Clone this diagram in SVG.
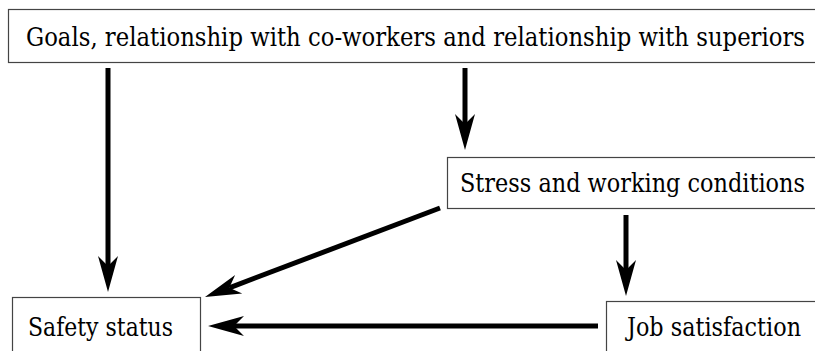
<svg xmlns="http://www.w3.org/2000/svg" width="815" height="351" viewBox="0 0 815 351">
<style>
.box{fill:#fff;stroke:#444;stroke-width:1.2}
.lbl{font-family:'DejaVu Serif',serif;font-size:26.5px;fill:#000}
.arr{stroke:#000;stroke-width:5;fill:none;marker-end:url(#ah)}
</style>
<defs>
<marker id="ah" markerUnits="userSpaceOnUse" markerWidth="40" markerHeight="24" viewBox="0 -12 40 24" refX="10" refY="0" orient="auto">
<path d="M0,-10 L36,0 L0,10 L10,0 Z" fill="#000"/>
</marker>
</defs>
<rect width="815" height="351" fill="#fff"/>
<g id="connectors">
<line class="arr" x1="108" y1="68" x2="108" y2="266"/>
<line class="arr" x1="465" y1="68" x2="465" y2="124"/>
<line class="arr" x1="626" y1="215" x2="626" y2="270"/>
<line class="arr" x1="440" y1="208" x2="229.3" y2="287.8"/>
<line class="arr" x1="598" y1="326" x2="234" y2="326"/>
</g>
<g id="goals">
<rect class="box" x="8.5" y="9.5" width="810" height="53"/>
<text class="lbl" x="26" y="46" textLength="779" lengthAdjust="spacingAndGlyphs">Goals, relationship with co-workers and relationship with superiors</text>
</g>
<g id="stress">
<rect class="box" x="447.5" y="157.5" width="370" height="51"/>
<text class="lbl" x="460" y="192" textLength="345" lengthAdjust="spacingAndGlyphs">Stress and working conditions</text>
</g>
<g id="safety">
<rect class="box" x="12.5" y="297.5" width="188" height="60"/>
<text class="lbl" x="28" y="336" textLength="145" lengthAdjust="spacingAndGlyphs">Safety status</text>
</g>
<g id="job">
<rect class="box" x="606.5" y="301.5" width="212" height="60"/>
<text class="lbl" x="627" y="336" textLength="174" lengthAdjust="spacingAndGlyphs">Job satisfaction</text>
</g>
</svg>
